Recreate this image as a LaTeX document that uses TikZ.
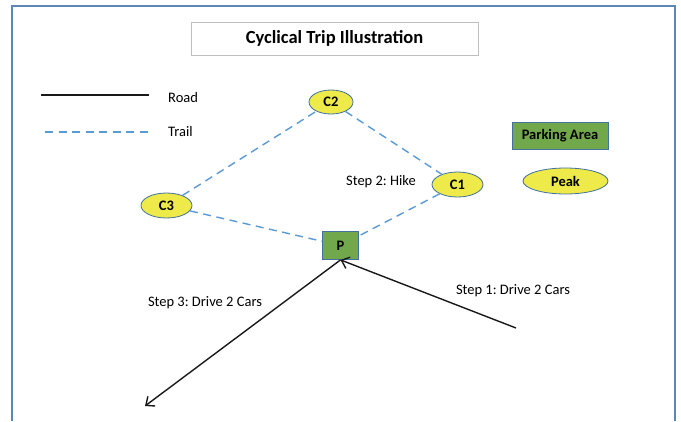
\documentclass[tikz,border=0pt]{standalone}
\usepackage{fontspec}
\setmainfont{Carlito}
\usetikzlibrary{shapes.geometric,arrows.meta}
\definecolor{framecol}{HTML}{5A86B8}
\definecolor{trailcol}{HTML}{5B9BD5}
\definecolor{greenfill}{HTML}{70A84B}
\definecolor{nodeborder}{HTML}{41719C}
\definecolor{yellowfill}{HTML}{EEEA4A}
\definecolor{titlegray}{HTML}{BFBFBF}
\tikzset{
  peaknode/.style={ellipse, draw=nodeborder, fill=yellowfill, line width=0.8pt, inner sep=0pt, font=\fontsize{14.5}{16}\selectfont\bfseries},
  parknode/.style={rectangle, draw=nodeborder, fill=greenfill, line width=0.8pt, inner sep=0pt, font=\fontsize{14.5}{16}\selectfont\bfseries},
  trail/.style={draw=trailcol, line width=1.4pt, dash pattern=on 8pt off 5.5pt},
  road/.style={draw=black!90, line width=1.4pt},
  roadarrow/.style={road, -{Straight Barb[length=7pt,width=12pt,line width=1.4pt]}},
  lbl/.style={inner sep=0pt, font=\fontsize{14.5}{16}\selectfont},
}
\begin{document}
\begin{tikzpicture}[x=1pt,y=-1pt]
\useasboundingbox[fill=white] (0,0) rectangle (681,421);
% frame
\draw[framecol, line width=1.2pt] (12,421) -- (12,6) -- (675,6) -- (675,421);
% title
\node[draw=titlegray, line width=0.8pt, minimum width=287pt, minimum height=33pt, inner sep=0pt,
      font=\fontsize{18.5}{20}\selectfont\bfseries] (title) at (334.5,38.5) {Cyclical Trip Illustration};
% legend
\coordinate (roadA) at (41,95);
\coordinate (roadB) at (149,95);
\draw[road] (roadA) -- (roadB);
\node[lbl, anchor=west] (roadlbl) at (168,98) {Road};
\coordinate (trailA) at (45,132);
\coordinate (trailB) at (150,132);
\draw[trail] (trailA) -- (trailB);
\node[lbl, anchor=west] (traillbl) at (168,132) {Trail};
\node[parknode, minimum width=96pt, minimum height=27pt] (park) at (560,135.5) {Parking Area};
\node[peaknode, minimum width=85pt, minimum height=26pt] (peak) at (565.5,181) {Peak};
% nodes
\node[peaknode, minimum width=44pt, minimum height=24pt] (c2) at (331,102) {C2};
\node[peaknode, minimum width=51pt, minimum height=25pt] (c1) at (457.5,184.5) {C1};
\node[peaknode, minimum width=51pt, minimum height=25pt] (c3) at (166.5,205.5) {C3};
\node[parknode, minimum width=36pt, minimum height=28pt] (p) at (340.5,245.5) {P};
% trails
\draw[trail] (c3) -- (c2);
\draw[trail] (c2) -- (c1);
\draw[trail] (c1) -- (p);
\draw[trail] (c3) -- (p);
% roads
\coordinate (s1) at (516,328);
\coordinate (s3) at (145,406);
\draw[roadarrow] (s1) -- (p.south);
\draw[roadarrow] (p.south) -- (s3);
% labels
\node[lbl] (hike) at (381,182) {Step 2:\ Hike};
\node[lbl] (step1) at (513,291) {Step 1:\ Drive 2 Cars};
\node[lbl] (step3) at (205,303) {Step 3:\ Drive 2 Cars};
\end{tikzpicture}
\end{document}
